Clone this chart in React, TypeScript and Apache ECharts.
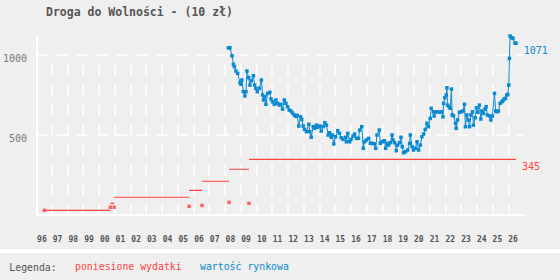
import React, { useEffect, useRef } from 'react';
import * as echarts from 'echarts';

const chartTitle = 'Droga do Wolności - (10 zł)';
const legendTitle = 'Legenda:';
const spentName = 'poniesione wydatki';
const valueName = 'wartość rynkowa';

const yearLabels = ['96', '97', '98', '99', '00', '01', '02', '03', '04', '05', '06', '07', '08', '09', '10', '11', '12', '13', '14', '15', '16', '17', '18', '19', '20', '21', '22', '23', '24', '25', '26'];

// purchases (decimal year), single amounts, cumulative spending
const purchaseDates = [1996.46, 2000.66, 2000.91, 2005.68, 2006.5, 2008.22, 2009.49];
const purchaseAmounts = [26, 45, 45, 51, 57, 76, 70];
const totalSpent = [26, 70, 108, 151, 208, 283, 345];

// market value (decimal year, value)
const valueDates = [
  2008.18, 2008.28, 2008.41, 2008.5, 2008.56, 2008.66, 2008.77, 2008.92, 2008.98, 2009.04,
  2009.13, 2009.23, 2009.3, 2009.36, 2009.47, 2009.55, 2009.64, 2009.77, 2009.85, 2009.93,
  2010.02, 2010.15, 2010.28, 2010.36, 2010.42, 2010.5, 2010.57, 2010.68, 2010.82, 2010.89,
  2010.99, 2011.1, 2011.2, 2011.31, 2011.42, 2011.52, 2011.63, 2011.74, 2011.84, 2011.95,
  2012.05, 2012.16, 2012.26, 2012.37, 2012.47, 2012.56, 2012.66, 2012.77, 2012.85, 2012.94,
  2013.03, 2013.15, 2013.3, 2013.36, 2013.45, 2013.58, 2013.66, 2013.79, 2013.87, 2014.0,
  2014.09, 2014.21, 2014.32, 2014.42, 2014.53, 2014.63, 2014.72, 2014.8, 2014.89, 2015.0,
  2015.14, 2015.25, 2015.36, 2015.48, 2015.63, 2015.69, 2015.78, 2015.9, 2015.99, 2016.12,
  2016.22, 2016.33, 2016.46, 2016.54, 2016.67, 2016.77, 2016.84, 2016.96, 2017.11, 2017.22,
  2017.35, 2017.47, 2017.56, 2017.64, 2017.79, 2017.85, 2017.98, 2018.11, 2018.19, 2018.28,
  2018.38, 2018.49, 2018.6, 2018.66, 2018.76, 2018.87, 2018.95, 2019.08, 2019.17, 2019.25,
  2019.33, 2019.46, 2019.59, 2019.72, 2019.76, 2019.87, 2019.97, 2020.08, 2020.19, 2020.29,
  2020.4, 2020.5, 2020.61, 2020.71, 2020.82, 2020.92, 2021.03, 2021.09, 2021.24, 2021.28,
  2021.35, 2021.5, 2021.62, 2021.77, 2021.84, 2021.88, 2021.96, 2022.05, 2022.09, 2022.13,
  2022.22, 2022.3, 2022.38, 2022.43, 2022.51, 2022.64, 2022.68, 2022.77, 2022.89, 2023.0,
  2023.11, 2023.21, 2023.27, 2023.36, 2023.46, 2023.53, 2023.62, 2023.72, 2023.78, 2023.89,
  2023.97, 2024.06, 2024.16, 2024.25, 2024.32, 2024.42, 2024.52, 2024.59, 2024.67, 2024.8,
  2024.89, 2024.99, 2025.12, 2025.2, 2025.27, 2025.37, 2025.48, 2025.59, 2025.65, 2025.73,
  2025.82, 2025.9, 2025.97, 2026.03, 2026.07, 2026.11, 2026.22, 2026.3, 2026.43, 2026.49,
];
const marketValues = [
  1042, 1042, 992, 939, 924, 897, 882, 824, 814, 841,
  768, 741, 768, 897, 855, 809, 836, 867, 809, 789,
  768, 789, 841, 747, 716, 736, 689, 757, 764, 722,
  705, 689, 716, 695, 684, 689, 659, 716, 695, 674,
  653, 647, 635, 622, 614, 620, 553, 611, 595, 553,
  532, 518, 564, 518, 483, 549, 539, 559, 545, 553,
  522, 549, 574, 559, 497, 511, 483, 497, 441, 486,
  524, 507, 480, 470, 483, 455, 507, 455, 470, 491,
  503, 476, 476, 528, 549, 414, 455, 466, 476, 445,
  445, 441, 414, 497, 528, 445, 455, 461, 414, 445,
  434, 449, 497, 466, 449, 399, 434, 449, 483, 424,
  386, 393, 403, 445, 497, 424, 403, 414, 455, 403,
  434, 486, 503, 532, 570, 549, 601, 664, 642, 616,
  642, 642, 639, 642, 611, 695, 730, 747, 792, 684,
  674, 664, 784, 622, 617, 570, 539, 591, 639, 642,
  647, 689, 549, 622, 591, 549, 622, 642, 559, 605,
  667, 639, 684, 597, 647, 632, 659, 674, 622, 616,
  591, 616, 757, 647, 642, 647, 695, 705, 709, 722,
  726, 747, 751, 809, 976, 1116, 1105, 1101, 1071, 1071,
];

const yTicks = { min: 0, max: 1116, interval: 500 };

const RED = '#ff4242';
const BLUE = '#0a8ad0';
const MONO = "'DejaVu Sans Mono', monospace";

export default function App() {
  const ref = useRef<HTMLDivElement>(null);

  useEffect(() => {
    document.body.style.margin = '0';
    if (!ref.current) return;
    const chart = echarts.init(ref.current, undefined, { renderer: 'svg' });

    const lastIdx = valueDates.length - 1;
    const endDate = valueDates[lastIdx];

    const spentData: any[] = [];
    purchaseDates.forEach((d, i) => {
      const isLast = i === purchaseDates.length - 1;
      const end = isLast ? endDate : purchaseDates[i + 1];
      spentData.push([d, totalSpent[i]]);
      if (isLast) {
        spentData.push({
          value: [end, totalSpent[i]],
          label: {
            show: true,
            position: 'right',
            distance: 6,
            offset: [0, 7],
            formatter: String(totalSpent[i]),
            color: RED,
            fontFamily: MONO,
            fontSize: 10,
          },
        });
      } else {
        spentData.push([end, totalSpent[i]]);
        spentData.push([end, '-']);
      }
    });

    const valueData: any[] = valueDates.map((d, i) =>
      i === lastIdx
        ? {
            value: [d, marketValues[i]],
            label: {
              show: true,
              position: 'right',
              distance: 6,
              offset: [0, 7],
              formatter: String(marketValues[i]),
              color: BLUE,
              fontFamily: MONO,
              fontSize: 10,
            },
          }
        : [d, marketValues[i]]
    );

    const option: any = {
      animation: false,
      backgroundColor: '#efefef',
      title: {
        text: chartTitle,
        left: 46,
        top: 6,
        padding: 0,
        textStyle: { fontFamily: MONO, fontWeight: 'bold', fontSize: 11.5, color: '#555' },
      },
      legend: {
        left: 70,
        top: 261,
        padding: 0,
        icon: 'none',
        itemWidth: 0,
        itemHeight: 0,
        itemGap: 13.3,
        selectedMode: false,
        textStyle: { fontFamily: MONO, fontSize: 9.85 },
        data: [
          { name: spentName, textStyle: { color: RED } },
          { name: valueName, textStyle: { color: BLUE } },
        ],
      },
      graphic: [
        { type: 'rect', left: 0, top: 249, shape: { width: 560, height: 4 }, style: { fill: '#ffffff' } },
        {
          type: 'text',
          left: 9.3,
          top: 262,
          style: { text: legendTitle, fill: '#555', font: `9.85px ${MONO}` },
        },
      ],
      grid: [
        { left: 36, right: 36, top: 36, bottom: 65.5 },
        { left: 36, right: 36, top: 64, bottom: 65.5 },
      ],
      xAxis: [
        {
          type: 'value',
          gridIndex: 0,
          min: 1996,
          max: 2027,
          interval: 1,
          axisLine: { show: true, lineStyle: { color: '#ffffff', width: 2 } },
          axisTick: { show: false },
          splitLine: { show: false },
          axisLabel: {
            formatter: (v: number) => yearLabels[Math.round(v) - 1996] ?? '',
            align: 'left',
            verticalAlign: 'middle',
            lineHeight: 8,
            margin: 24.5,
            color: '#555',
            fontFamily: MONO,
            fontSize: 8,
            fontWeight: 'bold',
            showMaxLabel: false,
          },
        },
        {
          type: 'value',
          gridIndex: 1,
          min: 1996,
          max: 2027,
          interval: 1,
          axisLine: { show: false },
          axisTick: { show: false },
          axisLabel: { show: false },
          splitLine: {
            show: true,
            showMinLine: false,
            showMaxLine: false,
            lineStyle: { color: '#ffffff', width: 1.5, type: [12, 8] },
          },
        },
      ],
      yAxis: [
        {
          type: 'value',
          gridIndex: 0,
          min: yTicks.min,
          max: yTicks.max,
          interval: yTicks.interval,
          axisLine: { show: true, lineStyle: { color: '#ffffff', width: 2 } },
          axisTick: { show: false },
          axisLabel: {
            formatter: (v: number) => String(v),
            color: '#777',
            fontFamily: MONO,
            fontSize: 10,
            margin: 10,
            verticalAlign: 'top',
            lineHeight: 8,
            showMinLabel: false,
            showMaxLabel: false,
          },
          splitLine: {
            show: true,
            showMinLine: false,
            showMaxLine: false,
            lineStyle: { color: '#ffffff', width: 1.5, type: [12, 8] },
          },
        },
        { type: 'value', gridIndex: 1, min: 0, max: 1, show: false },
      ],
      series: [
        {
          type: 'line',
          name: spentName,
          xAxisIndex: 0,
          yAxisIndex: 0,
          data: spentData,
          symbol: 'circle',
          symbolSize: 0,
          showSymbol: true,
          connectNulls: false,
          lineStyle: { color: RED, width: 1.2 },
          itemStyle: { color: RED },
          silent: true,
          z: 3,
        },
        {
          type: 'scatter',
          name: spentName,
          xAxisIndex: 0,
          yAxisIndex: 0,
          data: purchaseDates.map((d, i) => [d, purchaseAmounts[i]]),
          symbol: 'rect',
          symbolSize: 3.5,
          itemStyle: { color: RED },
          silent: true,
          z: 3,
        },
        {
          type: 'line',
          name: valueName,
          xAxisIndex: 0,
          yAxisIndex: 0,
          data: valueData,
          symbol: 'rect',
          symbolSize: 3.5,
          showSymbol: true,
          lineStyle: { color: BLUE, width: 1 },
          itemStyle: { color: BLUE },
          silent: true,
          z: 4,
        },
      ],
    };

    chart.setOption(option);
    return () => chart.dispose();
  }, []);

  return <div ref={ref} style={{ width: 560, height: 280, background: '#efefef' }} />;
}
